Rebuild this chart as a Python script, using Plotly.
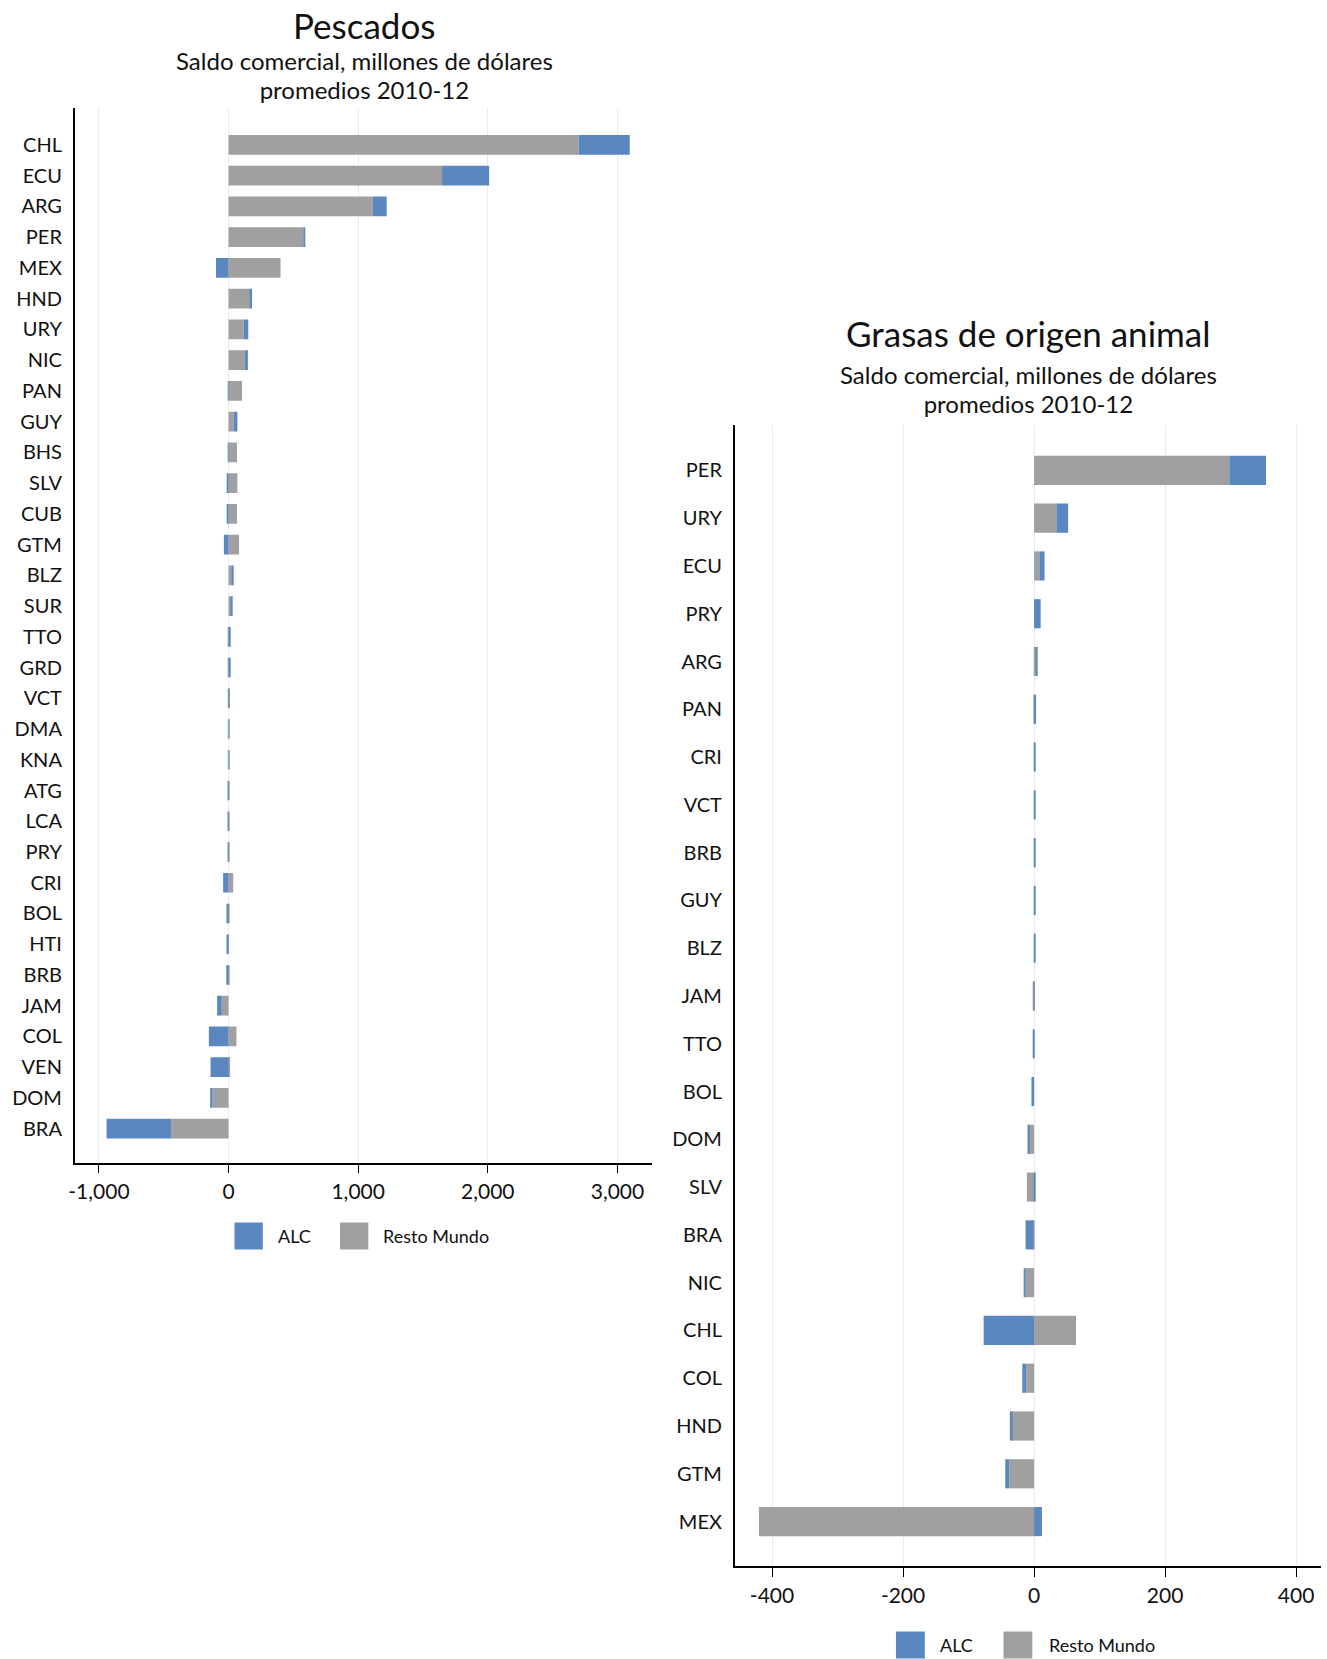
import plotly.graph_objects as go

W, H = 1327, 1659
BLUE = "#5b87c1"
GRAY = "#a0a0a0"
GRID = "#e3eef0"
FONT = "Lato"

# ---------------- Data: Pescados ----------------
pes_countries = ["CHL", "ECU", "ARG", "PER", "MEX", "HND", "URY", "NIC", "PAN", "GUY",
                 "BHS", "SLV", "CUB", "GTM", "BLZ", "SUR", "TTO", "GRD", "VCT", "DMA",
                 "KNA", "ATG", "LCA", "PRY", "CRI", "BOL", "HTI", "BRB", "JAM", "COL",
                 "VEN", "DOM", "BRA"]
pes_resto = [2700, 1647, 1113, 576, 401, 168, 117, 126, 104, 39,
             65, 68, 65, 81, 26, 19, 3, 2, 2, 1,
             1, 2, 2, 3, 36, 2, 1, 3, -52, 61,
             12, -123, -443]
pes_alc = [395, 363, 107, 16, -97, 13, 35, 23, -5, 29,
           -5, -13, -13, -36, 13, 10, 13, 10, 6, 5,
           5, -4, -4, -5, -42, -16, -16, -18, -36, -152,
           -139, -19, -498]
pes_ticks = [-1000, 0, 1000, 2000, 3000]
pes_ticktext = ["-1,000", "0", "1,000", "2,000", "3,000"]

# ---------------- Data: Grasas de origen animal ----------------
gra_countries = ["PER", "URY", "ECU", "PRY", "ARG", "PAN", "CRI", "VCT", "BRB", "GUY",
                 "BLZ", "JAM", "TTO", "BOL", "DOM", "SLV", "BRA", "NIC", "CHL", "COL",
                 "HND", "GTM", "MEX"]
gra_resto = [298, 34, 8, 0, 3, 0.5, 0, 0, 0, 0,
             0, -1.5, 0, 0, -8, -11, -1, -13, 64, -12,
             -34, -38, -420]
gra_alc = [56, 18, 8, 10, 1, 2.5, 1.5, 1, 1, 1,
           1, 0.5, -2, -4, -2, 2, -12, -2, -77, -6,
           -3, -6, 12]
gra_ticks = [-400, -200, 0, 200, 400]
gra_ticktext = ["-400", "-200", "0", "200", "400"]

series_names = ["ALC", "Resto Mundo"]
subtitle_lines = ["Saldo comercial, millones de dólares", "promedios 2010-12"]


def px(x):
    return x / W


def py(y):
    return 1 - y / H


fig = go.Figure()

# Left subplot traces (Resto first so it sits next to zero)
fig.add_trace(go.Bar(y=pes_countries, x=pes_resto, orientation="h", name=series_names[1],
                     marker=dict(color=GRAY, line=dict(width=0)), width=0.64,
                     xaxis="x", yaxis="y", showlegend=False))
fig.add_trace(go.Bar(y=pes_countries, x=pes_alc, orientation="h", name=series_names[0],
                     marker=dict(color=BLUE, line=dict(width=0)), width=0.64,
                     xaxis="x", yaxis="y", showlegend=False))
# Right subplot traces
fig.add_trace(go.Bar(y=gra_countries, x=gra_resto, orientation="h", name=series_names[1],
                     marker=dict(color=GRAY, line=dict(width=0)), width=0.61,
                     xaxis="x2", yaxis="y2", showlegend=False))
fig.add_trace(go.Bar(y=gra_countries, x=gra_alc, orientation="h", name=series_names[0],
                     marker=dict(color=BLUE, line=dict(width=0)), width=0.61,
                     xaxis="x2", yaxis="y2", showlegend=False))

common_x = dict(showgrid=True, gridcolor=GRID, gridwidth=1, zeroline=False,
                showline=True, linecolor="black", linewidth=1.5,
                ticks="outside", ticklen=9, tickcolor="black",
                tickfont=dict(family=FONT, size=21, color="#111"),
                ticklabelstandoff=1, fixedrange=True)
common_y = dict(type="category", showgrid=False, zeroline=False,
                showline=True, linecolor="black", linewidth=1.5,
                ticks="", tickfont=dict(family=FONT, size=20, color="#111"),
                ticklabelstandoff=7)

fig.update_layout(
    width=W, height=H,
    margin=dict(l=0, r=0, t=0, b=0),
    paper_bgcolor="white", plot_bgcolor="white",
    barmode="relative",
    showlegend=False,
    xaxis=dict(domain=[px(69), px(649)], range=[-1187, 3267],
               tickvals=pes_ticks, ticktext=pes_ticktext, anchor="y", **common_x),
    yaxis=dict(domain=[py(1162.5), py(108)], anchor="x",
               categoryorder="array", categoryarray=pes_countries,
               range=[len(pes_countries) - 1 + 1.1, -1.2], **common_y),
    xaxis2=dict(domain=[px(732), px(1321)], range=[-457, 438],
                tickvals=gra_ticks, ticktext=gra_ticktext, anchor="y2", **common_x),
    yaxis2=dict(domain=[py(1566), py(425)], anchor="x2",
                categoryorder="array", categoryarray=gra_countries,
                range=[len(gra_countries) - 1 + 0.93, -0.95], **common_y),
)

annotations = []
shapes = []


def add_title(cx, y_title, y_sub_mid, title):
    annotations.append(dict(text=title, x=px(cx), y=py(y_title), xref="paper", yref="paper",
                            xanchor="center", yanchor="middle", showarrow=False,
                            font=dict(family=FONT, size=35, color="#111")))
    # line spacing follows the base font (22.2px -> ~29px between lines), glyphs drawn at 24px
    sub = "<br>".join('<span style="font-size:24px">%s</span>' % s for s in subtitle_lines)
    annotations.append(dict(text=sub, x=px(cx), y=py(y_sub_mid),
                            xref="paper", yref="paper", xanchor="center", yanchor="middle",
                            showarrow=False, font=dict(family=FONT, size=22.2, color="#111")))


def add_legend(cy, items):
    for (x0, x1, tx, label, color) in items:
        shapes.append(dict(type="rect", xref="paper", yref="paper",
                           x0=px(x0), x1=px(x1), y0=py(cy + 13.5), y1=py(cy - 13.5),
                           fillcolor=color, line=dict(width=0)))
        annotations.append(dict(text=label, x=px(tx), y=py(cy), xref="paper", yref="paper",
                                xanchor="left", yanchor="middle", showarrow=False,
                                font=dict(family=FONT, size=18, color="#111")))


add_title(360, 25, 75, "Pescados")
add_title(1027, 333, 389, "Grasas de origen animal")
add_legend(1236, [(229.5, 258, 271, series_names[0], BLUE),
                  (335.5, 364, 377, series_names[1], GRAY)])
add_legend(1645, [(894, 923, 936, series_names[0], BLUE),
                  (1002, 1031, 1046, series_names[1], GRAY)])

fig.update_layout(annotations=annotations, shapes=shapes)

fig.write_html("out.html", config={"displayModeBar": False},
               post_script="document.body.style.margin='0';document.body.style.overflow='hidden';")
